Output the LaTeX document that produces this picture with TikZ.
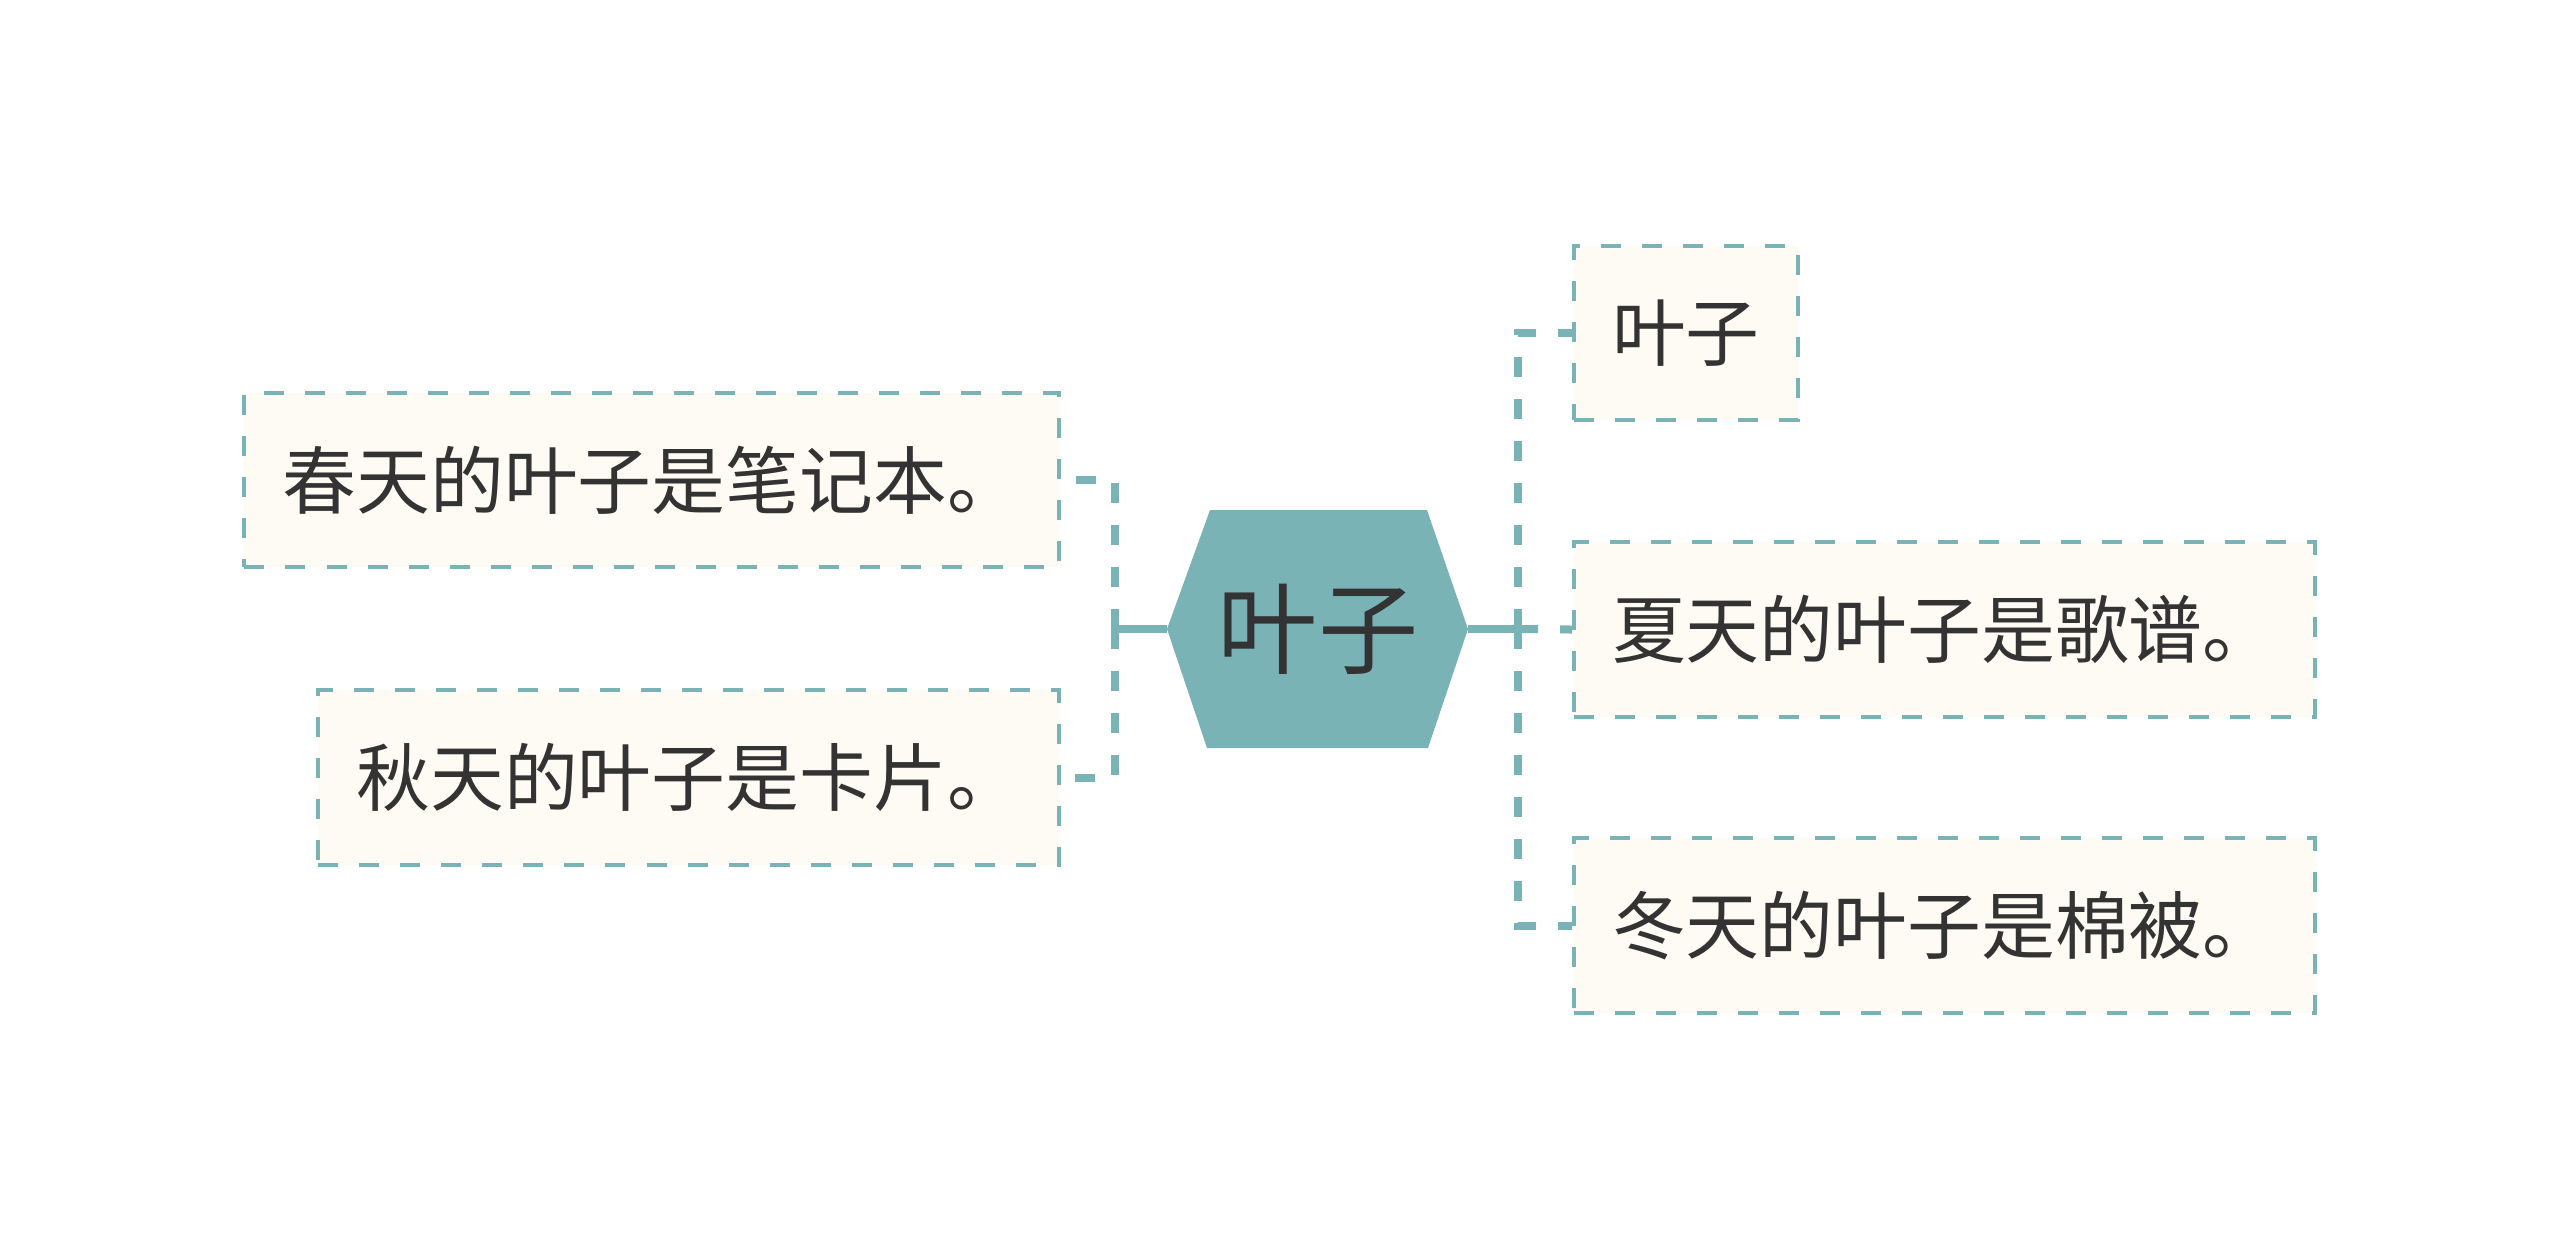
\documentclass[tikz,border=0pt]{standalone}
\usepackage{fontspec}
\newfontfamily\cjk{Noto Sans CJK SC}
\definecolor{xanh}{HTML}{7AB3B5}
\definecolor{kem}{HTML}{FDFBF3}
\definecolor{chu}{HTML}{333333}
\tikzset{
	la/.style={draw=xanh, line width=0.04cm, dash pattern=on 0.2cm off 0.21cm,
		fill=kem, text=chu, minimum height=1.74cm, inner xsep=0.38cm, inner ysep=0pt,
		font=\cjk\fontsize{21}{25}\selectfont},
	nhanh/.style={draw=xanh, line width=0.08cm, dash pattern=on 0.2cm off 0.22cm},
	goc/.style={draw=xanh, line width=0.08cm},
}
\begin{document}
\begin{tikzpicture}[x=0.01cm, y=-0.01cm]
	\useasboundingbox (0,0) rectangle (2560,1259);
	\path
	%	luc giac o giua
	(1167,629) coordinate (L)
	(1210,510) coordinate (TL)
	(1427,510) coordinate (TR)
	(1468,629) coordinate (R)
	(1428,748) coordinate (BR)
	(1207,748) coordinate (BL)
	(1115,629) coordinate (lj)
	(1518,629) coordinate (rj)
	;
	\fill[xanh] (L)--(TL)--(TR)--(R)--(BR)--(BL)--cycle;
	\node[text=chu, font=\cjk\fontsize{28.5}{32}\selectfont] (goc) at (1318,629) {叶子};
	% nhanh phai
	\node[la, anchor=west] (p1) at (1572,333) {叶子};
	\node[la, anchor=west] (p2) at (1572,629.5) {夏天的叶子是歌谱。};
	\node[la, anchor=west] (p3) at (1572,925.5) {冬天的叶子是棉被。};
	% nhanh trai
	\node[la, anchor=east] (t1) at (1061,480) {春天的叶子是笔记本。};
	\node[la, anchor=east] (t2) at (1061,777.5) {秋天的叶子是卡片。};
	\draw[goc] (R)--(rj);
	\draw[goc] (L)--(lj);
	\draw[nhanh] (rj)--(rj |- p1.west)--(p1.west);
	\draw[nhanh] (rj)--(p2.west);
	\draw[nhanh] (rj)--(rj |- p3.west)--(p3.west);
	\draw[nhanh] (lj)--(lj |- t1.east)--(t1.east);
	\draw[nhanh] (lj)--(lj |- t2.east)--(t2.east);
\end{tikzpicture}
\end{document}
